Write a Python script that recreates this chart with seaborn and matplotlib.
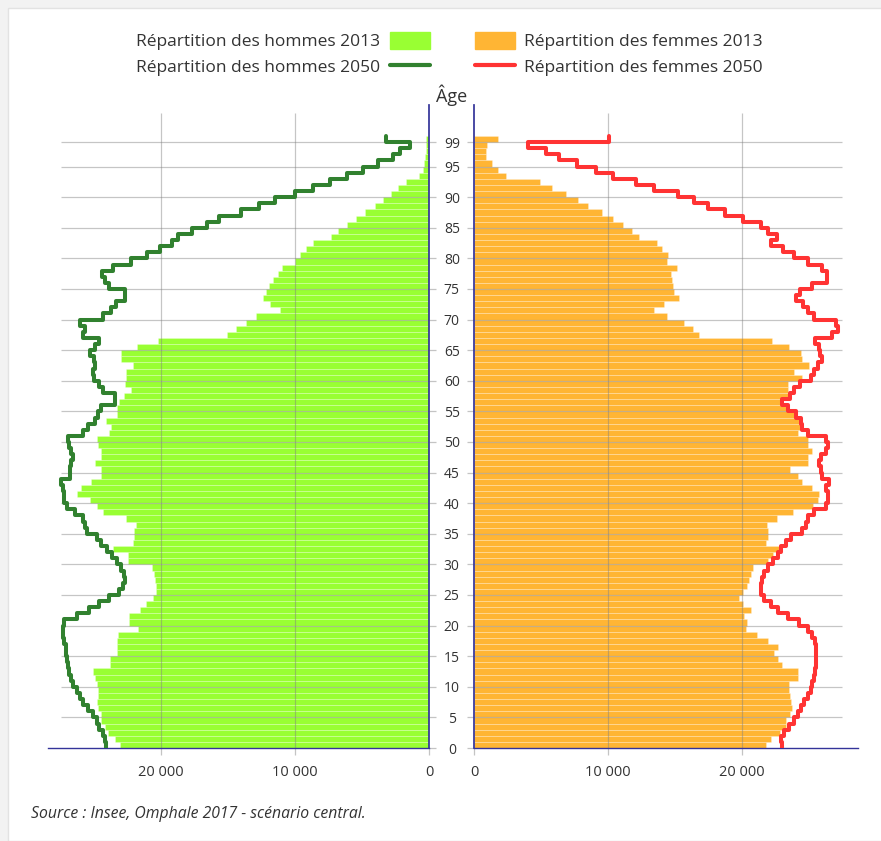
import numpy as np
import matplotlib.pyplot as plt
import matplotlib.patches as mpatches
from matplotlib.lines import Line2D
import seaborn as sns

# Population by single year of age, 0 to 99
ages = np.arange(0, 100)

hommes_2013 = [23050, 23450, 23950, 24200, 24450, 24450, 24700, 24800, 24700, 24700,
               24800, 24950, 25100, 23800, 23800, 23300, 23300, 23300, 23200, 21700,
               22400, 22400, 21550, 21150, 20600, 20350, 20400, 20450, 20550, 20650,
               22450, 22450, 23550, 22100, 22050, 22050, 21900, 22600, 24300, 24800,
               25300, 26300, 25950, 25200, 24450, 24450, 24900, 24450, 24450, 24700,
               24800, 23850, 23700, 24100, 23300, 23300, 23100, 22750, 22200, 22700,
               22600, 22600, 22100, 22950, 22950, 21800, 20200, 15100, 14400, 13650,
               12900, 11150, 11900, 12350, 12150, 11950, 11650, 11250, 11000, 10000,
               9600, 9200, 8650, 7300, 6800, 6150, 5450, 4800, 4050, 3400,
               2800, 2300, 1750, 750, 450, 350, 300, 250, 200, 250]

hommes_2050 = [24100, 24150, 24350, 24600, 24800, 25050, 25450, 25800, 26050, 26300,
               26550, 26700, 26850, 26950, 27000, 27050, 27100, 27200, 27300, 27300,
               27200, 26300, 25350, 24600, 23850, 23100, 22800, 22700, 22750, 22950,
               23300, 23650, 24050, 24450, 24800, 25550, 25700, 25800, 26450, 27000,
               27200, 27200, 27300, 27450, 26800, 26800, 26700, 26600, 26750, 26850,
               26950, 25800, 25450, 24950, 24700, 24450, 23400, 23450, 24300, 24600,
               25000, 25100, 24950, 25000, 25300, 24900, 24600, 25850, 25700, 26050,
               24300, 23700, 23350, 22700, 22700, 23850, 24200, 24400, 23600, 22200,
               21050, 20100, 19200, 18700, 17650, 16600, 15650, 14000, 12700, 11500,
               10000, 8650, 7400, 6150, 4900, 3800, 2700, 2200, 1450, 3200]

femmes_2013 = [21800, 22150, 22800, 23250, 23300, 23550, 23700, 23650, 23550, 23500,
               23500, 24200, 24200, 23000, 22650, 22400, 22650, 21900, 21100, 20300,
               20400, 20150, 20650, 20100, 19750, 20100, 20350, 20550, 20650, 20800,
               21900, 22300, 22800, 21800, 21900, 21900, 21850, 22600, 23800, 25300,
               25650, 25750, 25200, 24450, 24200, 23600, 24950, 24950, 25250, 24900,
               24900, 24150, 24300, 24300, 23900, 23400, 23050, 23550, 23400, 23400,
               24450, 23850, 25000, 24450, 24400, 23500, 22250, 16800, 16350, 15700,
               14400, 13400, 14150, 15300, 14950, 14850, 14800, 14700, 15150, 14400,
               14500, 14000, 13650, 12300, 11800, 11150, 10400, 9550, 8500, 7750,
               6850, 5850, 4950, 2400, 1800, 1350, 870, 900, 1000, 1800]

femmes_2050 = [23000, 22900, 23150, 23500, 23850, 24150, 24400, 24650, 24900, 25150,
               25250, 25400, 25450, 25500, 25500, 25500, 25500, 25450, 25250, 24900,
               24250, 23400, 22650, 22150, 21650, 21400, 21400, 21500, 21650, 21900,
               22300, 22650, 22900, 23300, 23650, 24500, 24750, 24900, 25400, 26250,
               26400, 26400, 26250, 26500, 26000, 25900, 25750, 25900, 26250, 26400,
               26250, 24900, 24500, 24400, 24050, 23400, 23000, 23550, 23900, 24300,
               25150, 25400, 25650, 26000, 25800, 25750, 25450, 26700, 27150, 27000,
               25400, 24950, 24550, 24000, 24300, 25200, 26300, 26300, 25950, 24900,
               23900, 23050, 22150, 22600, 21900, 21400, 20100, 18750, 17450, 16450,
               15200, 13450, 12050, 10350, 9100, 7700, 6350, 5400, 4000, 10050]

age_ticks = list(range(0, 100, 5)) + [99]
x_ticks = [0, 10000, 20000]
x_labels = ["0", "10 000", "20 000"]

labels_hommes = ["Répartition des hommes 2013", "Répartition des hommes 2050"]
labels_femmes = ["Répartition des femmes 2013", "Répartition des femmes 2050"]

vert = "#99FF33"
orange = "#FFB534"
vert_fonce = "#31812F"
rouge = "#FF3333"
bleu = "#333399"
gris = "#c4c4c4"

sns.set_theme(style="white")
plt.rcParams["font.family"] = ["Open Sans", "DejaVu Sans"]

fig = plt.figure(figsize=(8.81, 8.41), dpi=100, facecolor="#f2f2f2")
W, H = 881, 841
fig.add_artist(mpatches.Rectangle((8 / W, 0), 1, 1 - 8 / H, transform=fig.transFigure,
                                  facecolor="white", edgecolor="#e2e2e2", lw=1, zorder=-10))

ax_l = fig.add_axes([48 / W, 1 - 748 / H, 381 / W, 642.6 / H])
ax_r = fig.add_axes([474 / W, 1 - 748 / H, 384 / W, 642.6 / H])
ymax = 105


def step_xy(vals):
    # vertical step outline: one segment per age band [a, a+1]
    ys = np.column_stack([ages, ages + 1]).ravel()
    xs = np.repeat(np.asarray(vals), 2)
    return xs, ys


for ax, bars, line, c_bar, c_line, xmax in [
        (ax_l, hommes_2013, hommes_2050, vert, vert_fonce, 28430),
        (ax_r, femmes_2013, femmes_2050, orange, rouge, 28650)]:
    ax.set_facecolor("none")
    sns.barplot(x=bars, y=ages + 0.5, orient="y", native_scale=True, width=1,
                color=c_bar, saturation=1, errorbar=None, edgecolor=(1, 1, 1, 0.3),
                linewidth=0.5, ax=ax, zorder=1)
    ax.hlines(age_ticks[1:], 0, 27450, color="#808080", alpha=0.45, lw=0.9, zorder=2)
    ax.vlines(x_ticks[1:], 0, 103.8, color="#808080", alpha=0.45, lw=0.9, zorder=2)
    xs, ys = step_xy(line)
    sns.lineplot(x=xs, y=ys, sort=False, estimator=None, color=c_line, lw=2.9,
                 ax=ax, zorder=4)
    ax.set_ylim(0, ymax)
    ax.set_xticks(x_ticks)
    ax.set_xticklabels(x_labels)
    ax.set_yticks(age_ticks)
    ax.set_xlabel("")
    ax.set_ylabel("")
    ax.tick_params(axis="x", length=5, width=0.9, color=gris, pad=7,
                   labelsize=10.5, labelcolor="#333333", bottom=True)
    ax.tick_params(axis="y", length=5, width=0.9, color=gris)
    for s in ax.spines.values():
        s.set_visible(False)
    ax.spines["bottom"].set_visible(True)
    ax.spines["bottom"].set_color(bleu)
    ax.spines["bottom"].set_linewidth(1)
    if ax is ax_l:
        ax.set_xlim(xmax, 0)
        ax.spines["right"].set_visible(True)
        ax.spines["right"].set_color(bleu)
        ax.yaxis.tick_right()
        ax.tick_params(axis="y", labelright=False, labelleft=False, right=True, left=False)
    else:
        ax.set_xlim(0, xmax)
        ax.spines["left"].set_visible(True)
        ax.spines["left"].set_color(bleu)
        ax.yaxis.tick_left()
        ax.tick_params(axis="y", left=True, labelsize=10, labelcolor="#333333", pad=11)
        for t in ax.get_yticklabels():
            t.set_ha("center")

fig.text(452 / W, 1 - 95 / H, "Âge", ha="center", va="center", fontsize=13, color="#333333")

# legend: text first on the left column, handle first on the right column
leg_kw = dict(frameon=False, fontsize=12.5, handlelength=2.3, handleheight=1.15,
              labelspacing=0.4, handletextpad=0.55, borderpad=0, borderaxespad=0)
h_l = [mpatches.Patch(color=vert), Line2D([], [], color=vert_fonce, lw=3)]
h_r = [mpatches.Patch(color=orange), Line2D([], [], color=rouge, lw=3)]
leg1 = fig.legend(h_l, labels_hommes, loc="upper right", bbox_to_anchor=(430 / W, 1 - 32 / H),
                  markerfirst=False, **leg_kw)
leg2 = fig.legend(h_r, labels_femmes, loc="upper left", bbox_to_anchor=(475 / W, 1 - 32 / H),
                  markerfirst=True, **leg_kw)
for leg in (leg1, leg2):
    for t in leg.get_texts():
        t.set_color("#333333")

fig.text(31 / W, 1 - 814 / H, "Source : Insee, Omphale 2017 - scénario central.",
         ha="left", va="center", fontsize=11.3, style="italic", color="#333333")

plt.savefig("out.png", dpi=100, facecolor=fig.get_facecolor())
